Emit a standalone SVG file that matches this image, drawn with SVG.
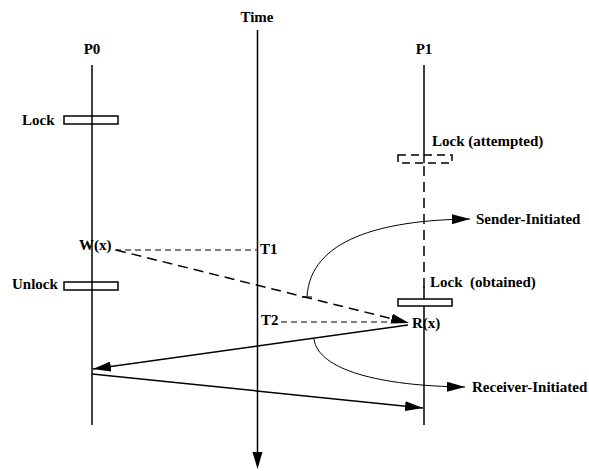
<svg xmlns="http://www.w3.org/2000/svg" width="589" height="471" viewBox="0 0 589 471">
<style>
text{font-family:"Liberation Serif","Times New Roman",serif;font-weight:bold;font-size:15px;fill:#000;white-space:pre}
.ln{stroke:#000;stroke-width:1.5;fill:none}
.thin{stroke:#000;stroke-width:1;fill:none}
.dash{stroke:#000;stroke-width:1.5;fill:none;stroke-dasharray:10 6}
.gdash{stroke:#555;stroke-width:1.3;fill:none;stroke-dasharray:6 4}
.box{fill:#fff;stroke:#000;stroke-width:1.5}
</style>
<defs>
<marker id="ah" viewBox="0 0 18 10" refX="18" refY="5" markerWidth="18" markerHeight="10" markerUnits="userSpaceOnUse" orient="auto"><path d="M0,0 L18,5 L0,10 Z" fill="#000"/></marker>
</defs>
<g id="time">
<text x="257" y="22" text-anchor="middle">Time</text>
<line class="ln" x1="257.5" y1="30" x2="257.5" y2="455"/>
<path d="M252.5,452 L262.5,452 L257.5,469 Z" fill="#000"/>
</g>
<g id="p0">
<text x="92" y="54" text-anchor="middle">P0</text>
<line class="ln" x1="92" y1="65" x2="92" y2="425"/>
</g>
<g id="p1">
<text x="424" y="54" text-anchor="middle">P1</text>
<line class="ln" x1="424" y1="65" x2="424" y2="163"/>
<line class="dash" x1="424" y1="166" x2="424" y2="290"/>
<line class="ln" x1="424" y1="287" x2="424" y2="425"/>
</g>
<g id="lock0">
<rect class="box" x="64" y="116" width="54" height="8"/>
<line class="ln" x1="92" y1="116" x2="92" y2="124"/>
<text x="22" y="125">Lock</text>
</g>
<g id="unlock0">
<rect class="box" x="64" y="282" width="54" height="8"/>
<line class="ln" x1="92" y1="282" x2="92" y2="290"/>
<text x="12" y="289">Unlock</text>
</g>
<g id="lock-attempted">
<rect x="398" y="155" width="54" height="8" fill="none" stroke="#000" stroke-width="1.5" stroke-dasharray="8 5"/>
<text x="432" y="146">Lock (attempted)</text>
</g>
<g id="lock-obtained">
<rect class="box" x="398" y="299" width="54" height="7"/>
<text x="430" y="287" xml:space="preserve">Lock  (obtained)</text>
</g>
<g id="wx"><text x="79" y="250">W(x)</text></g>
<g id="t1"><text x="260" y="254">T1</text></g>
<g id="t2"><text x="261" y="325">T2</text></g>
<g id="rx"><text x="412" y="328">R(x)</text></g>
<g id="sender"><text x="476" y="224">Sender-Initiated</text></g>
<g id="receiver"><text x="472" y="392">Receiver-Initiated</text></g>
<g id="connectors">
<line class="gdash" x1="115" y1="250" x2="257" y2="250"/>
<line class="gdash" x1="281" y1="322" x2="400" y2="322"/>
<line class="dash" x1="116" y1="250" x2="409" y2="323" marker-end="url(#ah)"/>
<line class="ln" x1="408" y1="325" x2="93" y2="369" marker-end="url(#ah)"/>
<line class="ln" x1="92" y1="374" x2="423" y2="408" marker-end="url(#ah)"/>
<path class="thin" d="M307,297 C310,240 380,220 470,219" marker-end="url(#ah)"/>
<line class="thin" x1="302" y1="297" x2="312" y2="297"/>
<path class="thin" d="M314,339 C318,370 380,386 465,387" marker-end="url(#ah)"/>
</g>
</svg>
